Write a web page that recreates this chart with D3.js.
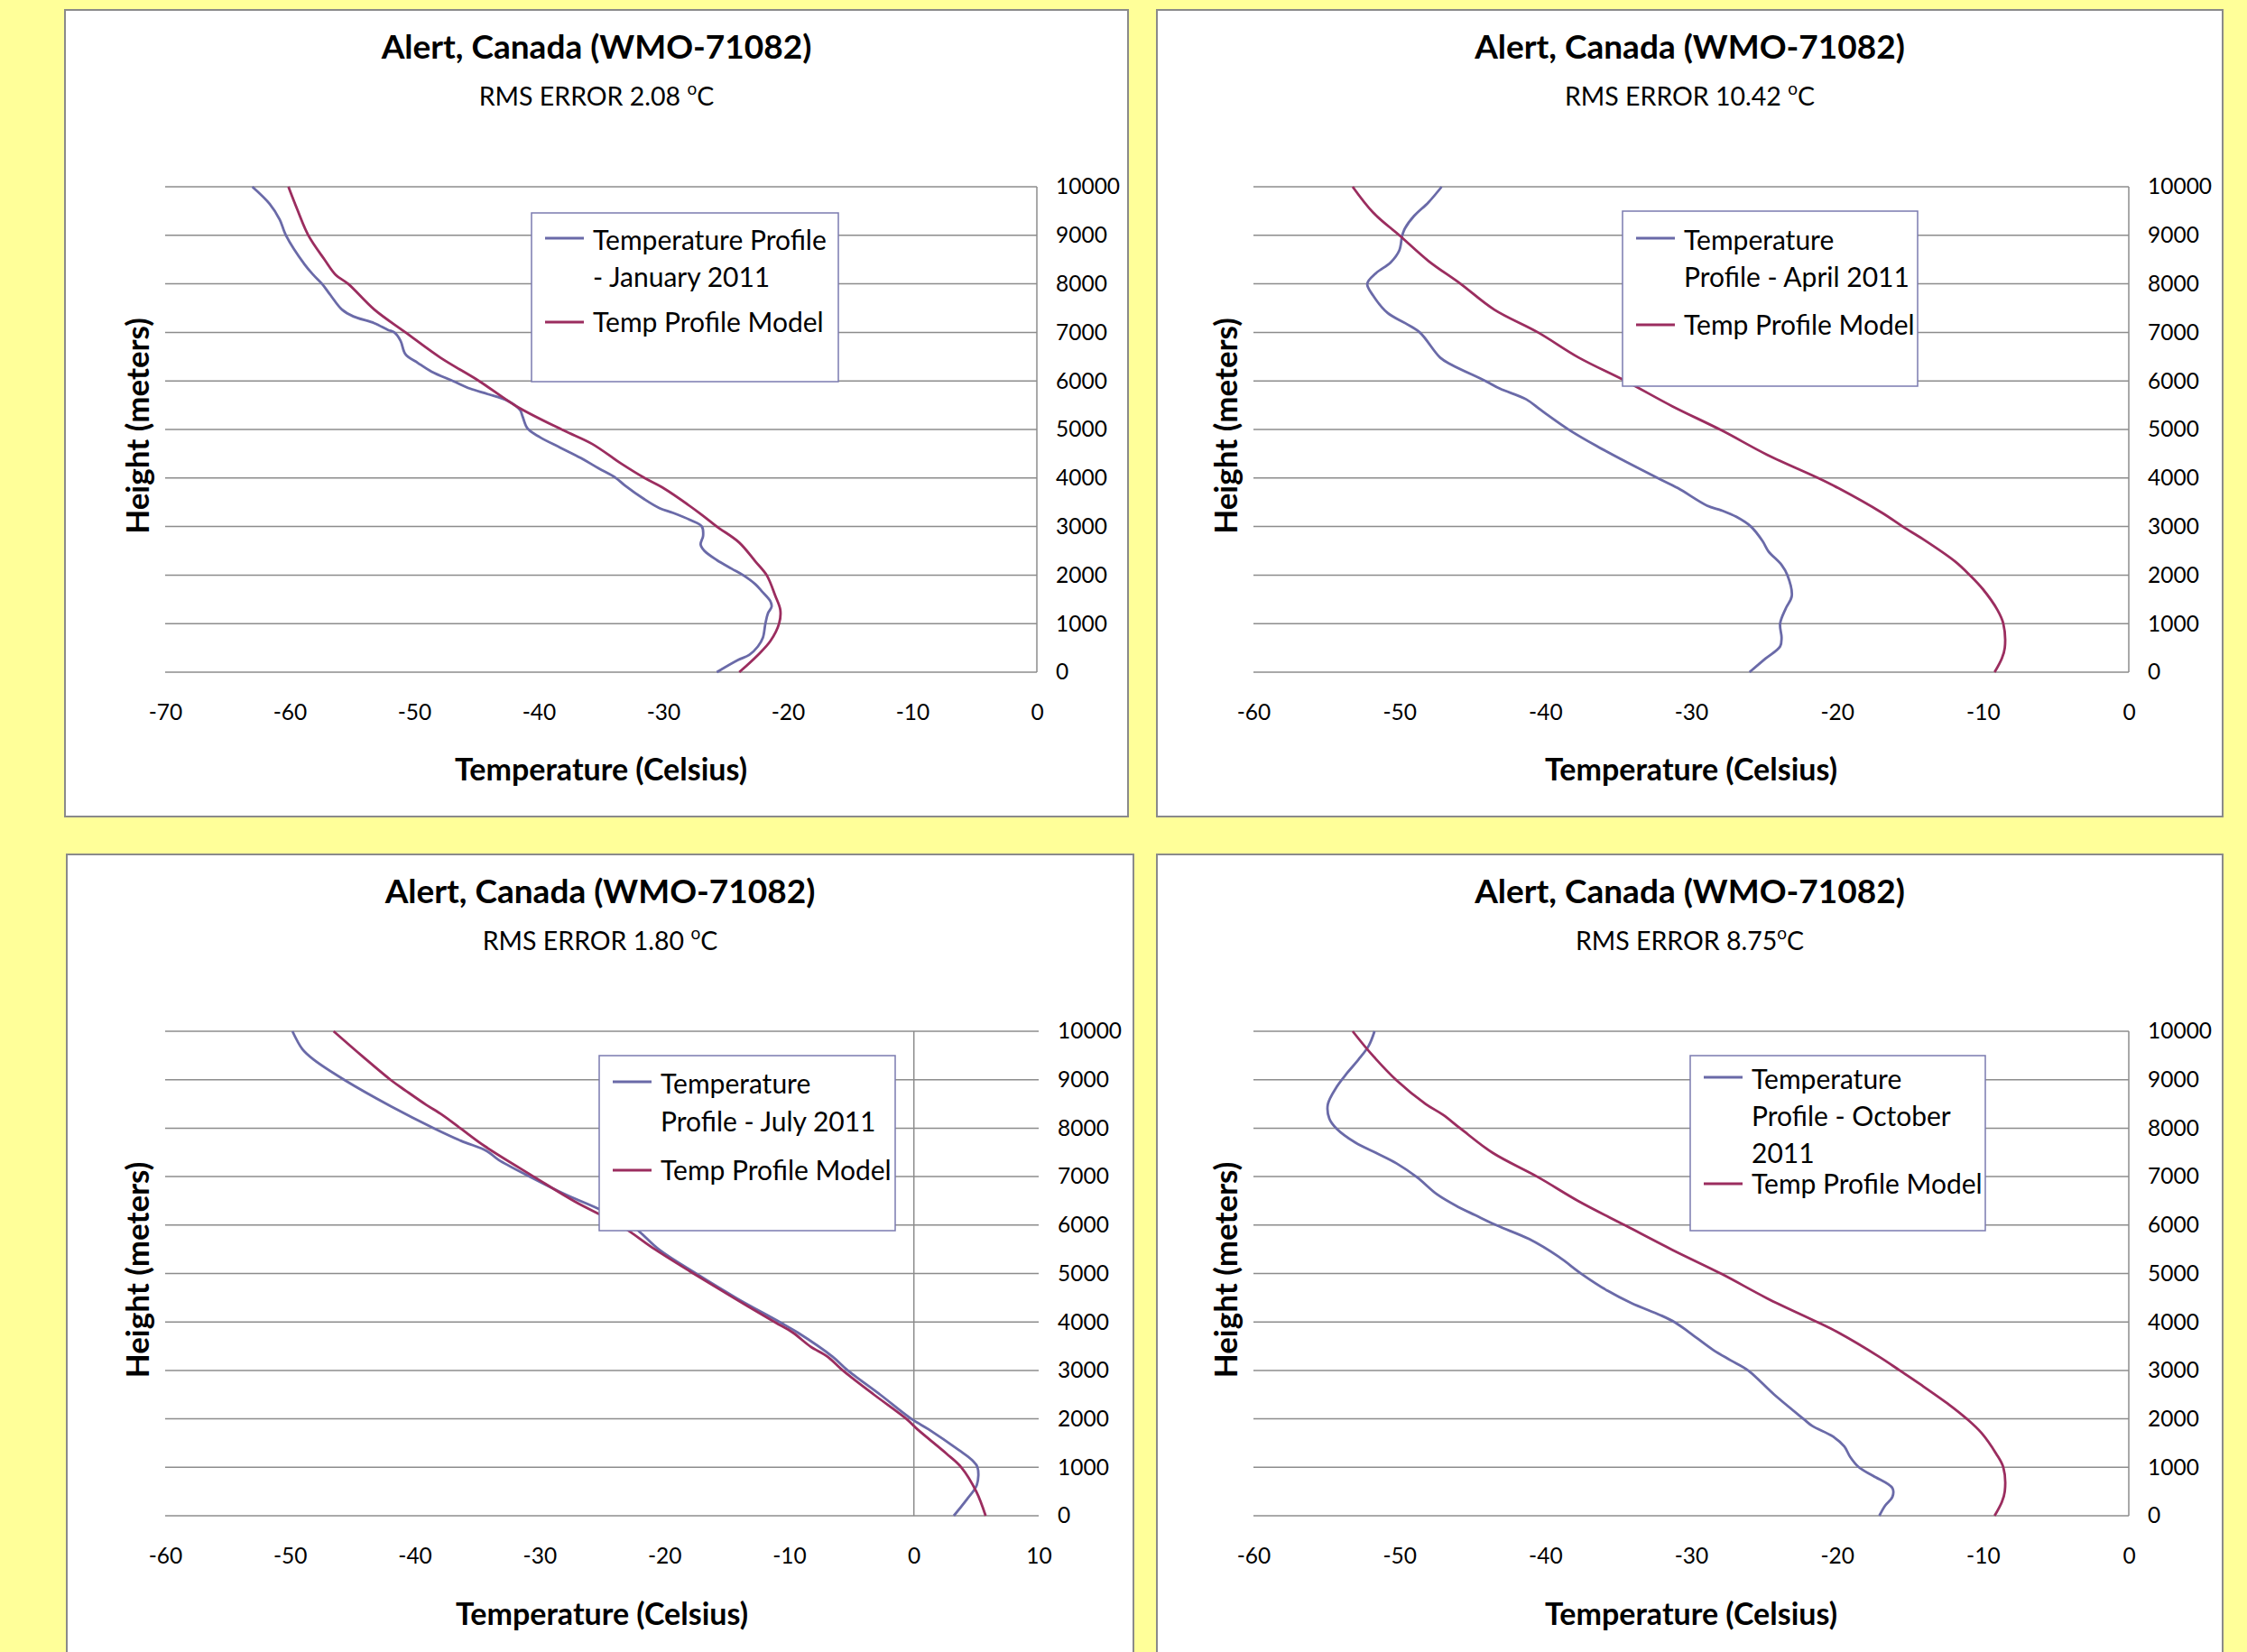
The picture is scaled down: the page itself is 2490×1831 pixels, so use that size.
<!DOCTYPE html>
<html>
<head>
<meta charset="utf-8">
<script src="https://cdn.jsdelivr.net/npm/d3@7"></script>
<style>
  body { margin: 0; background: #ffff99; }
  svg { display: block; }
  text { font-family: Lato, "Open Sans", sans-serif; fill: #000; }
</style>
</head>
<body>
<svg id="chart"></svg>
<script>
// values: [temperature C, height m]
const janObs = [[-25.7,0],[-24.0,250],[-23.1,355],[-22.4,530],[-22.0,710],[-21.8,1000],[-21.6,1210],[-21.3,1350],[-21.4,1460],[-22.1,1670],[-22.6,1810],[-23.6,2000],[-24.5,2130],[-25.7,2310],[-26.7,2500],[-27.0,2630],[-26.8,2810],[-26.9,3000],[-27.8,3130],[-29.2,3280],[-30.3,3380],[-31.5,3560],[-33.1,3850],[-33.8,4000],[-35.2,4200],[-36.6,4410],[-38.3,4630],[-39.9,4840],[-40.9,5020],[-41.3,5270],[-41.5,5400],[-42.5,5590],[-44.1,5730],[-45.5,5840],[-46.9,6000],[-48.6,6190],[-49.7,6370],[-50.7,6550],[-51.1,6830],[-51.6,7000],[-52.1,7050],[-53.2,7190],[-54.9,7330],[-55.8,7470],[-56.7,7760],[-57.4,8000],[-58.1,8185],[-58.8,8400],[-60.3,9000],[-60.8,9325],[-61.6,9645],[-63.0,10000]];
const janModel = [[-23.9,0],[-22.4,355],[-21.4,640],[-20.7,1000],[-20.6,1280],[-21.0,1570],[-21.7,2000],[-22.6,2280],[-23.9,2670],[-25.7,3000],[-27.1,3280],[-30.1,3810],[-31.5,4000],[-33.4,4300],[-35.7,4700],[-38.0,4980],[-41.8,5480],[-44.8,6000],[-47.9,6480],[-50.7,7000],[-53.2,7470],[-55.3,8000],[-56.3,8185],[-57.2,8500],[-58.5,9000],[-59.4,9540],[-60.1,10000]];

const aprObs = [[-26.0,0],[-24.9,280],[-23.9,530],[-23.8,710],[-23.9,1000],[-23.5,1320],[-23.1,1570],[-23.4,2000],[-23.8,2210],[-24.7,2490],[-25.1,2700],[-25.9,3000],[-26.9,3200],[-27.9,3330],[-28.9,3430],[-30.9,3790],[-32.3,4000],[-34.5,4340],[-36.3,4630],[-38.3,4980],[-40.3,5400],[-41.3,5620],[-43.1,5840],[-44.1,6000],[-46.4,6330],[-47.2,6480],[-48.6,7000],[-49.6,7190],[-50.8,7400],[-51.8,7760],[-52.2,8000],[-51.6,8220],[-50.6,8440],[-50.0,8690],[-49.8,9000],[-49.6,9150],[-49.0,9395],[-48.0,9680],[-47.1,10000]];
const aprModel = [[-9.2,0],[-8.7,285],[-8.5,500],[-8.6,1000],[-9.0,1280],[-10.0,1710],[-10.9,2000],[-11.9,2280],[-14.1,2740],[-15.5,3000],[-16.9,3280],[-19.9,3790],[-21.3,4000],[-24.8,4480],[-27.9,4980],[-31.3,5480],[-34.5,6000],[-37.7,6480],[-40.5,7000],[-43.5,7470],[-45.8,8000],[-48.0,8470],[-50.0,9000],[-51.8,9470],[-53.2,10000]];

const julObs = [[3.2,0],[4.3,355],[5.05,640],[5.1,1000],[4.7,1140],[3.6,1355],[1.2,1780],[-0.2,2000],[-2.7,2500],[-5.3,3000],[-6.5,3280],[-9.3,3780],[-10.7,3990],[-14.2,4490],[-17.4,4990],[-20.4,5490],[-22.6,5990],[-25.4,6350],[-27.9,6630],[-30.7,6990],[-33.3,7350],[-34.2,7525],[-36.3,7740],[-38.4,7990],[-41.9,8450],[-45.6,8990],[-48.1,9415],[-49.0,9630],[-49.8,10000]];
const julModel = [[5.75,0],[5.0,500],[3.8,1000],[2.6,1285],[0.3,1780],[-0.6,2000],[-3.2,2500],[-5.7,3000],[-6.9,3280],[-8.3,3495],[-9.7,3780],[-11.1,3990],[-14.4,4490],[-17.6,4990],[-20.7,5490],[-23.5,5990],[-27.2,6490],[-30.4,6990],[-34.4,7630],[-36.3,7990],[-37.8,8275],[-39.1,8485],[-40.7,8770],[-41.9,8990],[-44.2,9485],[-46.5,10000]];

const octObs = [[-17.1,0],[-16.7,210],[-16.2,390],[-16.2,570],[-17.5,820],[-18.5,1000],[-19.1,1215],[-19.5,1430],[-20.3,1640],[-21.7,1855],[-22.3,2000],[-24.3,2500],[-26.1,3000],[-27.3,3210],[-28.5,3425],[-30.1,3780],[-31.1,3990],[-32.1,4140],[-34.1,4390],[-35.7,4640],[-37.5,4990],[-39.1,5350],[-41.1,5710],[-43.3,5990],[-44.8,6205],[-46.0,6380],[-47.4,6630],[-48.8,6990],[-50.2,7275],[-51.6,7490],[-53.0,7700],[-54.3,7990],[-54.8,8200],[-54.9,8490],[-54.3,8850],[-53.6,9130],[-52.8,9415],[-52.1,9700],[-51.7,10000]];
const octModel = [[-9.2,0],[-8.7,285],[-8.5,500],[-8.6,1000],[-9.1,1285],[-10.1,1710],[-11.1,2000],[-12.3,2290],[-14.3,2715],[-15.7,3000],[-17.1,3280],[-19.9,3780],[-21.3,3990],[-24.8,4490],[-27.9,4990],[-31.3,5490],[-34.5,5990],[-37.7,6490],[-40.5,6990],[-43.6,7490],[-45.8,7990],[-47.0,8275],[-48.2,8500],[-50.2,8990],[-52.0,9560],[-53.2,10000]];

const heightTicks = [0,1000,2000,3000,4000,5000,6000,7000,8000,9000,10000];
const rmsErrors = ["2.08 ", "10.42 ", "1.80 ", "8.75"];
const obsLabels = [
  ["Temperature Profile", "- January 2011"],
  ["Temperature", "Profile - April 2011"],
  ["Temperature", "Profile - July 2011"],
  ["Temperature", "Profile - October", "2011"]
];
const modelLabel = "Temp Profile Model";
const xDomains = [[-70, 0], [-60, 0], [-60, 10], [-60, 0]];
const title = "Alert, Canada (WMO-71082)";

const colors = { obs: "#6a6aa8", model: "#9b2d5f", grid: "#8c8c8c" };

// layout of each panel on the page
const panels = [
  { frame: [72, 11, 1178, 894],  plot: [183, 207, 966, 538],  legend: [589, 236, 340, 187, [266, 307], 357], obs: janObs, model: janModel },
  { frame: [1282, 11, 1181, 894], plot: [1389, 207, 970, 538], legend: [1798, 234, 327, 194, [266, 307], 360], obs: aprObs, model: aprModel },
  { frame: [74, 947, 1182, 920],  plot: [183, 1143, 968, 537], legend: [664, 1170, 328, 194, [1201, 1243], 1297], obs: julObs, model: julModel },
  { frame: [1282, 947, 1181, 920], plot: [1389, 1143, 970, 537], legend: [1873, 1170, 327, 194, [1196, 1237, 1278], 1312], obs: octObs, model: octModel }
];

const svg = d3.select("#chart").attr("width", 2490).attr("height", 1831);
svg.append("rect").attr("width", 2490).attr("height", 1831).attr("fill", "#ffff99");

const line = d3.line().curve(d3.curveCatmullRom.alpha(0.5));
const plain = d => String(d);   // hyphen minus, no thousands separator

panels.forEach((p, i) => {
  const [fx, fy, fw, fh] = p.frame;
  const [px, py, pw, ph] = p.plot;
  const g = svg.append("g");

  g.append("rect")
    .attr("x", fx).attr("y", fy).attr("width", fw).attr("height", fh)
    .attr("fill", "#fff").attr("stroke", "#8a8a8a").attr("stroke-width", 2);

  const dom = xDomains[i];
  const x = d3.scaleLinear().domain(dom).range([px, px + pw]);
  const y = d3.scaleLinear().domain([0, 10000]).range([py + ph, py]);

  // horizontal gridlines
  g.append("g").selectAll("line").data(heightTicks).join("line")
    .attr("x1", px).attr("x2", px + pw)
    .attr("y1", d => y(d)).attr("y2", d => y(d))
    .attr("stroke", colors.grid).attr("stroke-width", 1.5);

  // value axis crosses at 0
  g.append("line")
    .attr("x1", x(0)).attr("x2", x(0)).attr("y1", y(0)).attr("y2", y(10000))
    .attr("stroke", colors.grid).attr("stroke-width", 1.5);

  const yAxis = g.append("g")
    .attr("transform", `translate(${px + pw},0)`)
    .call(d3.axisRight(y).tickValues(heightTicks).tickFormat(plain).tickSize(0).tickPadding(21));
  yAxis.select(".domain").remove();
  yAxis.selectAll("text").attr("font-size", 24.5).attr("font-family", "Lato");

  const xAxis = g.append("g")
    .attr("transform", `translate(0,${py + ph})`)
    .call(d3.axisBottom(x).tickValues(d3.range(dom[0], dom[1] + 1, 10)).tickFormat(plain).tickSize(0).tickPadding(36));
  xAxis.select(".domain").remove();
  xAxis.selectAll("text").attr("font-size", 24.5).attr("font-family", "Lato");

  g.append("path").datum(p.obs)
    .attr("d", line.x(d => x(d[0])).y(d => y(d[1])))
    .attr("fill", "none").attr("stroke", colors.obs).attr("stroke-width", 2.8)
    .attr("stroke-linejoin", "round");
  g.append("path").datum(p.model)
    .attr("d", line.x(d => x(d[0])).y(d => y(d[1])))
    .attr("fill", "none").attr("stroke", colors.model).attr("stroke-width", 2.8)
    .attr("stroke-linejoin", "round");

  // titles
  const cx = fx + fw / 2;
  g.append("text").attr("x", cx).attr("y", fy + 54)
    .attr("text-anchor", "middle").attr("font-size", 37).attr("font-weight", "bold")
    .text(title);
  const sub = g.append("text").attr("x", cx).attr("y", fy + 106)
    .attr("text-anchor", "middle").attr("font-size", 28.5);
  sub.append("tspan").text("RMS ERROR " + rmsErrors[i]);
  sub.append("tspan").attr("font-size", 19).attr("dy", -12).text("o");
  sub.append("tspan").attr("dy", 12).text("C");

  g.append("text").attr("x", px + pw / 2).attr("y", fy + 854)
    .attr("text-anchor", "middle").attr("font-size", 34).attr("font-weight", "bold")
    .text("Temperature (Celsius)");
  g.append("text")
    .attr("transform", `translate(${px - 18},${py + ph / 2 - 4}) rotate(-90)`)
    .attr("text-anchor", "middle").attr("font-size", 35).attr("font-weight", "bold")
    .text("Height (meters)");

  // legend
  const [lx, ly, lw, lh, obsRows, modelRow] = p.legend;
  g.append("rect").attr("x", lx).attr("y", ly).attr("width", lw).attr("height", lh)
    .attr("fill", "#fff").attr("stroke", "#7b7bb0").attr("stroke-width", 1.5);
  g.append("line").attr("x1", lx + 15).attr("x2", lx + 58)
    .attr("y1", obsRows[0] - 2).attr("y2", obsRows[0] - 2)
    .attr("stroke", colors.obs).attr("stroke-width", 3);
  g.append("line").attr("x1", lx + 15).attr("x2", lx + 58)
    .attr("y1", modelRow).attr("y2", modelRow)
    .attr("stroke", colors.model).attr("stroke-width", 3);
  g.selectAll(".lt").data(obsLabels[i]).join("text")
    .attr("x", lx + 68).attr("y", (d, k) => obsRows[k])
    .attr("dy", "0.35em").attr("font-size", 30).text(d => d);
  g.append("text").attr("x", lx + 68).attr("y", modelRow)
    .attr("dy", "0.35em").attr("font-size", 30).text(modelLabel);
});
</script>
</body>
</html>
